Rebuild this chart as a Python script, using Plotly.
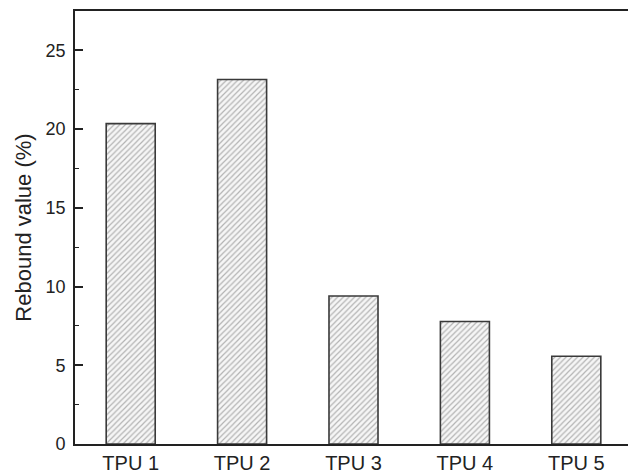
import plotly.graph_objects as go

categories = ["TPU 1", "TPU 2", "TPU 3", "TPU 4", "TPU 5"]
rebound = [20.35, 23.15, 9.4, 7.78, 5.57]
y_ticks = [0, 5, 10, 15, 20, 25]

fig = go.Figure()
fig.add_trace(go.Bar(
    x=categories,
    y=rebound,
    width=0.44,
    marker=dict(
        color="#f2f2f2",
        line=dict(color="#3a3a3a", width=1.6),
        pattern=dict(shape="/", fgcolor="#707070", bgcolor="#f6f6f6", size=4, solidity=0.3),
    ),
    showlegend=False,
))

fam = "Liberation Sans, Arial, sans-serif"
col = "#222222"

# The page body adds an 8px margin, so the figure is sized to fit the 636x473 window.
fig.update_layout(
    width=628, height=465,
    margin=dict(l=67, r=4, t=3, b=29),
    paper_bgcolor="white",
    plot_bgcolor="white",
    font=dict(family=fam, color=col),
    xaxis=dict(
        range=[-0.5, 4.5],
        automargin=False,
        showline=True, mirror=True, linecolor=col, linewidth=1.6,
        ticks="", showgrid=False,
        tickfont=dict(size=20, family=fam, color=col),
    ),
    yaxis=dict(
        range=[0, 27.5],
        automargin=False,
        tickvals=y_ticks,
        showline=True, mirror=True, linecolor=col, linewidth=1.6,
        ticks="inside", ticklen=8, tickwidth=1.5, tickcolor=col,
        minor=dict(ticks="inside", ticklen=4, dtick=2.5, tickwidth=1.3, tickcolor=col, showgrid=False),
        showgrid=False, zeroline=False,
        tickfont=dict(size=18, family=fam, color=col),
        ticklabelstandoff=4,
        title=dict(text="Rebound value (%)", font=dict(size=22, family=fam, color=col), standoff=8),
    ),
)

fig.write_html("out.html")
